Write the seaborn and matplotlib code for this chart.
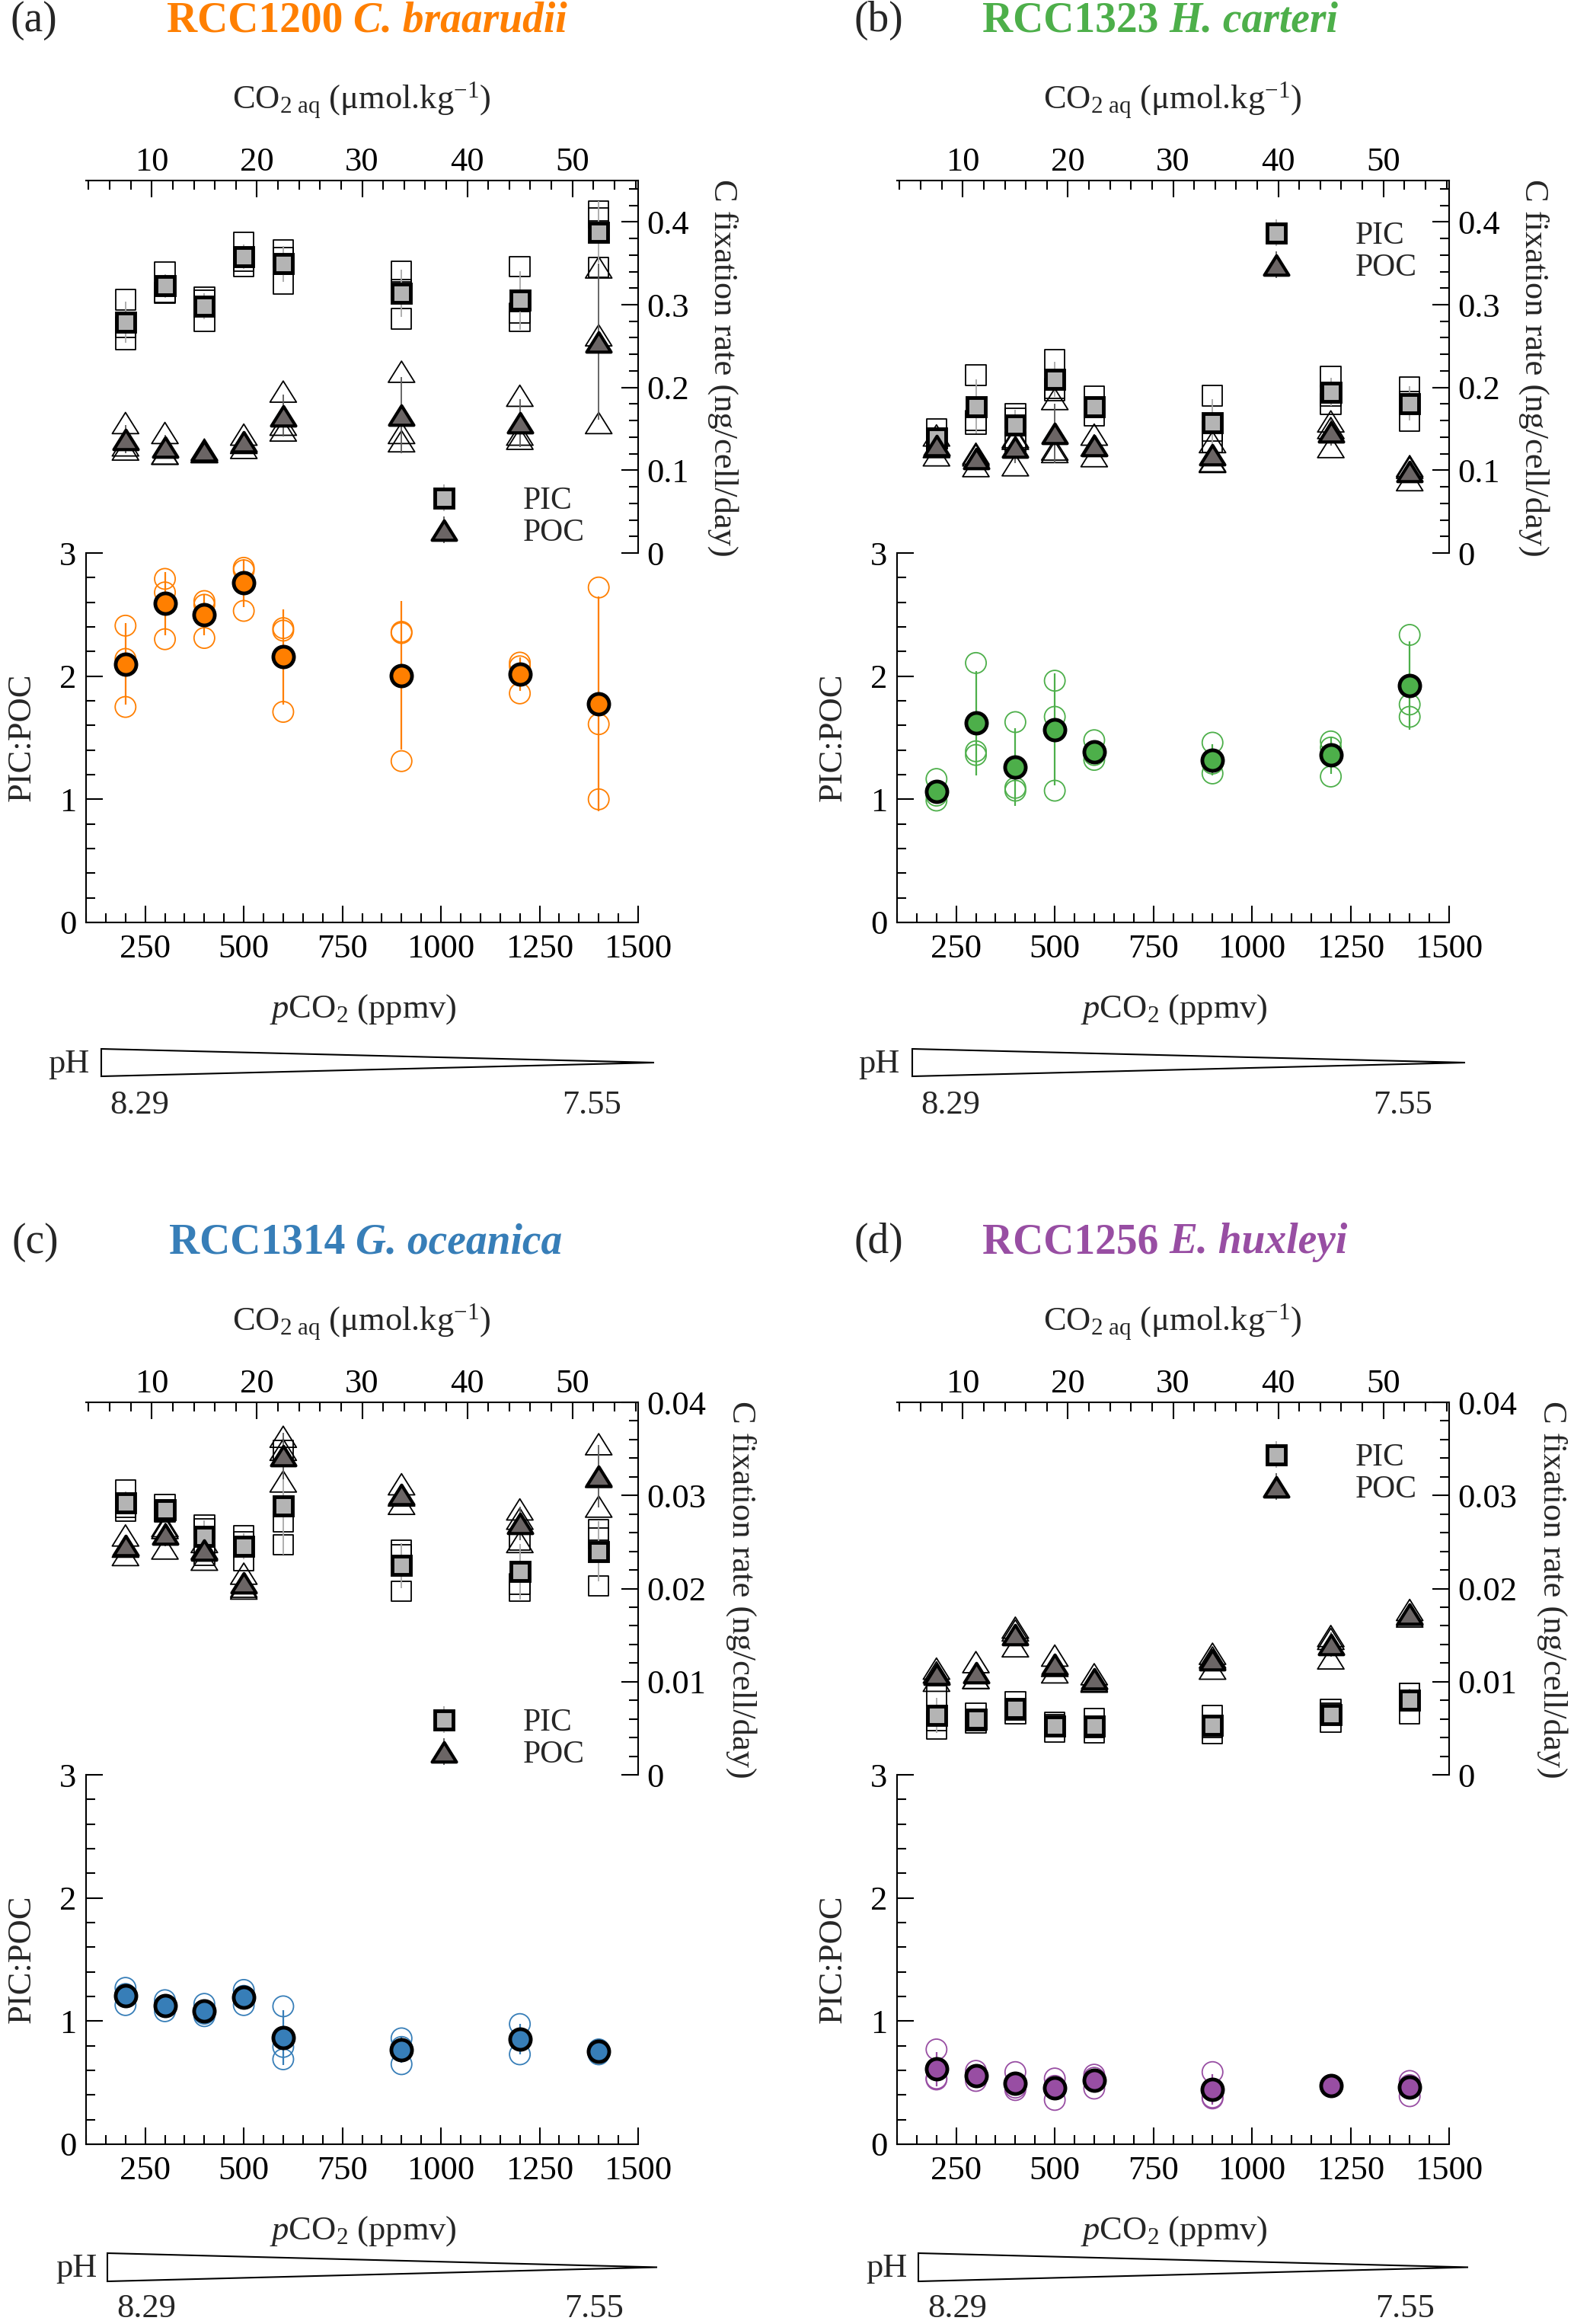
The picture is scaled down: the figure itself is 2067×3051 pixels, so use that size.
import numpy as np
import pandas as pd
import matplotlib
matplotlib.use('Agg')
import matplotlib.pyplot as plt
import seaborn as sns
from matplotlib.ticker import MultipleLocator, FuncFormatter
from matplotlib.patches import Polygon
from matplotlib.path import Path
from matplotlib.legend_handler import HandlerErrorbar
from matplotlib.container import ErrorbarContainer

sns.set_style('ticks', {'axes.edgecolor': 'black', 'xtick.color': 'black', 'ytick.color': 'black',
                        'xtick.direction': 'in', 'ytick.direction': 'in'})
plt.rcParams['font.family'] = ['Liberation Serif', 'DejaVu Serif']
plt.rcParams['mathtext.fontset'] = 'custom'
plt.rcParams['mathtext.rm'] = 'Liberation Serif'
plt.rcParams['mathtext.it'] = 'Liberation Serif:italic'
plt.rcParams['mathtext.bf'] = 'Liberation Serif:bold'
plt.rcParams['axes.linewidth'] = 1.5

# pCO2 levels (ppmv)
pco2 = [200, 300, 400, 500, 600, 900, 1200, 1400]

# replicate values (3 per pCO2 level)
# (a) RCC1200 C. braarudii
pic_a = [[0.306, 0.273, 0.258], [0.339, 0.315, 0.314], [0.309, 0.305, 0.280], [0.375, 0.353, 0.346],
         [0.366, 0.357, 0.325], [0.340, 0.318, 0.283], [0.346, 0.290, 0.280], [0.413, 0.405, 0.345]]
poc_a = [[0.157, 0.130, 0.125], [0.145, 0.120, 0.120], [0.125, 0.122, 0.122], [0.143, 0.133, 0.127],
         [0.195, 0.155, 0.148], [0.219, 0.145, 0.135], [0.190, 0.143, 0.138], [0.345, 0.263, 0.157]]
ratio_a = [[2.41, 2.14, 1.75], [2.79, 2.68, 2.30], [2.61, 2.58, 2.31], [2.88, 2.86, 2.53],
           [2.39, 2.37, 1.71], [2.36, 2.35, 1.31], [2.11, 2.08, 1.86], [2.72, 1.61, 1.00]]
# (b) RCC1323 H. carteri
pic_b = [[0.150, 0.135, 0.132], [0.215, 0.160, 0.156], [0.168, 0.163, 0.134], [0.234, 0.199, 0.196],
         [0.189, 0.176, 0.166], [0.190, 0.147, 0.134], [0.213, 0.190, 0.180], [0.200, 0.183, 0.159]]
poc_b = [[0.142, 0.128, 0.118], [0.120, 0.118, 0.105], [0.140, 0.138, 0.106], [0.186, 0.125, 0.122],
         [0.143, 0.130, 0.117], [0.134, 0.111, 0.110], [0.159, 0.151, 0.128], [0.105, 0.103, 0.088]]
ratio_b = [[1.165, 1.03, 0.99], [2.107, 1.39, 1.36], [1.627, 1.093, 1.07], [1.963, 1.67, 1.07],
           [1.48, 1.36, 1.32], [1.46, 1.29, 1.21], [1.47, 1.42, 1.185], [2.335, 1.77, 1.67]]
# (c) RCC1314 G. oceanica
pic_c = [[0.0306, 0.0287, 0.0283], [0.0290, 0.0283, 0.0282], [0.0268, 0.0264, 0.0236], [0.0257, 0.0250, 0.0230],
         [0.0348, 0.0272, 0.0247], [0.0241, 0.0236, 0.0197], [0.0252, 0.0205, 0.0197], [0.0263, 0.0254, 0.0203]]
poc_c = [[0.0257, 0.0245, 0.0236], [0.0267, 0.0265, 0.0243], [0.0250, 0.0243, 0.0231], [0.0216, 0.0202, 0.0200],
         [0.0363, 0.0349, 0.0315], [0.0312, 0.0300, 0.0291], [0.0285, 0.0275, 0.0250], [0.0355, 0.0320, 0.0288]]
ratio_c = [[1.27, 1.22, 1.13], [1.17, 1.12, 1.08], [1.14, 1.06, 1.04], [1.253, 1.205, 1.13],
           [1.12, 0.79, 0.69], [0.86, 0.79, 0.65], [0.976, 0.853, 0.73], [0.77, 0.76, 0.73]]
# (d) RCC1256 E. huxleyi
pic_d = [[0.0085, 0.0058, 0.0049], [0.0066, 0.0058, 0.0056], [0.0078, 0.0070, 0.0066], [0.0056, 0.0054, 0.0046],
         [0.0060, 0.0051, 0.0045], [0.0064, 0.0051, 0.0044], [0.0070, 0.0066, 0.0057], [0.0087, 0.0087, 0.0066]]
poc_d = [[0.0114, 0.0110, 0.0101], [0.0121, 0.0104, 0.0104], [0.0158, 0.0155, 0.0138], [0.0128, 0.0117, 0.0110],
         [0.0108, 0.0101, 0.0100], [0.0130, 0.0126, 0.0114], [0.0149, 0.0146, 0.0125], [0.0177, 0.0172, 0.0170]]
ratio_d = [[0.77, 0.534, 0.526], [0.596, 0.555, 0.514], [0.586, 0.46, 0.44], [0.534, 0.474, 0.36],
           [0.565, 0.54, 0.452], [0.586, 0.38, 0.372], [0.48, 0.47, 0.47], [0.514, 0.48, 0.39]]

set1 = sns.color_palette('Set1')
panels = [
    dict(tag='(a)', strain='RCC1200', species='C. braarudii', color=set1[4], pic=pic_a, poc=poc_a, ratio=ratio_a,
         ymax=0.45, step=0.1, leg='low', left=113, top=237, tag_x=14, title_x=219, row=0),
    dict(tag='(b)', strain='RCC1323', species='H. carteri', color=set1[2], pic=pic_b, poc=poc_b, ratio=ratio_b,
         ymax=0.45, step=0.1, leg='high', left=1178, top=237, tag_x=1122, title_x=1290, row=0),
    dict(tag='(c)', strain='RCC1314', species='G. oceanica', color=set1[1], pic=pic_c, poc=poc_c, ratio=ratio_c,
         ymax=0.04, step=0.01, leg='low', left=113, top=1841, tag_x=16, title_x=222, row=1),
    dict(tag='(d)', strain='RCC1256', species='E. huxleyi', color=set1[3], pic=pic_d, poc=poc_d, ratio=ratio_d,
         ymax=0.04, step=0.01, leg='high', left=1178, top=1841, tag_x=1122, title_x=1290, row=1),
]
# per-row offsets of the side label and of the pH wedge (pixels from panel corner)
row_style = [
    dict(rlab=836, wl=20, wr=746, wtop=1140, wbot=1176, ph_dx=4, num_y=1214, n1=70, n2=664),
    dict(rlab=860, wl=28, wr=750, wtop=1117, wbot=1154, ph_dx=14, num_y=1190, n1=79, n2=667),
]

W, H = 2067, 3051
fig = plt.figure(figsize=(W / 100, H / 100), dpi=100)
fig.patch.set_facecolor('white')


def fx(x):
    return x / W


def fy(y):
    return 1 - y / H


def long_df(values, name):
    rows = [(x, v) for x, reps in zip(pco2, values) for v in reps]
    return pd.DataFrame(rows, columns=['pco2', name])


tri = Path([(-1, -0.8), (1, -0.8), (0, 0.8), (0, 0)],
           [Path.MOVETO, Path.LINETO, Path.LINETO, Path.CLOSEPOLY])

FS = 32
sq_fill, tri_fill = '#b4b4b4', '#6b6565'


def fmt_rate(v, _):
    return '0' if abs(v) < 1e-12 else f'{v:g}'


def draw_panel(p):
    L, T = p['left'], p['top']
    rs = row_style[p['row']]
    aw, hu, hl = 725, 489, 485
    ax_r = fig.add_axes([fx(L), fy(T + hu), aw / W, hu / H])
    ax_p = fig.add_axes([fx(L), fy(T + hu + hl), aw / W, hl / H])
    for ax in (ax_r, ax_p):
        ax.patch.set_visible(False)

    # ---- C fixation rates ----
    d_pic = long_df(p['pic'], 'pic')
    d_poc = long_df(p['poc'], 'poc')
    sns.scatterplot(data=d_pic, x='pco2', y='pic', marker='s', s=19 ** 2, facecolors='none',
                    edgecolor='black', linewidth=1.3, ax=ax_r, legend=False, zorder=2)
    sns.scatterplot(data=d_poc, x='pco2', y='poc', marker=tri, s=25 ** 2, facecolors='none',
                    edgecolor='black', linewidth=1.3, ax=ax_r, legend=False, zorder=2)
    s_pic = d_pic.groupby('pco2')['pic'].agg(['mean', 'std'])
    s_poc = d_poc.groupby('pco2')['poc'].agg(['mean', 'std'])
    ax_r.errorbar(s_pic.index, s_pic['mean'], yerr=s_pic['std'], marker='s', ls='none', ms=17,
                  mfc=sq_fill, mec='black', mew=3.5, ecolor='#a8a8a8', elinewidth=1.3, capsize=0,
                  label='PIC', zorder=3)
    ax_r.errorbar(s_poc.index, s_poc['mean'], yerr=s_poc['std'], marker=tri, ls='none', ms=23,
                  mfc=tri_fill, mec='black', mew=3.0, ecolor='#5a5a5a', elinewidth=1.3, capsize=0,
                  label='POC', zorder=3)

    ax_r.set_xlim(100, 1500)
    ax_r.set_ylim(0, p['ymax'])
    ax_r.set_xlabel('')
    ax_r.set_ylabel('')
    ax_r.yaxis.tick_right()
    ax_r.spines[['left', 'bottom', 'top']].set_visible(False)
    ax_r.spines['right'].set_visible(True)
    ax_r.tick_params(axis='x', which='both', bottom=False, top=False, labelbottom=False, labeltop=False)
    ax_r.yaxis.set_major_locator(MultipleLocator(p['step']))
    ax_r.yaxis.set_minor_locator(MultipleLocator(p['step'] / 5))
    ax_r.yaxis.set_major_formatter(FuncFormatter(fmt_rate))
    ax_r.tick_params(axis='y', which='major', direction='in', length=16, width=1.5, labelsize=FS, pad=8,
                     left=False, right=True)
    ax_r.tick_params(axis='y', which='minor', direction='in', length=8.5, width=1.5, left=False, right=True)

    sec = ax_r.secondary_xaxis('top', functions=(lambda x: x * 0.0375, lambda c: c / 0.0375))
    sec.xaxis.set_major_locator(MultipleLocator(10))
    sec.xaxis.set_minor_locator(MultipleLocator(2))
    sec.tick_params(axis='x', which='major', direction='in', length=16, width=1.5, labelsize=FS, pad=3)
    sec.tick_params(axis='x', which='minor', direction='in', length=8.5, width=1.5)

    # legend
    leg_y = T + 402 if p['leg'] == 'low' else T + 54
    leg_x = L + 449 if p['leg'] == 'low' else L + 477
    h, lab = ax_r.get_legend_handles_labels()
    ax_r.legend(h, lab, loc='upper left', bbox_to_anchor=(fx(leg_x), fy(leg_y)),
                bbox_transform=fig.transFigure, frameon=False, borderpad=0, borderaxespad=0,
                handlelength=1.0, handletextpad=2.0, labelspacing=0.08, fontsize=30,
                handler_map={ErrorbarContainer: HandlerErrorbar(xerr_size=0.42)})

    # ---- PIC:POC ----
    d_rat = long_df(p['ratio'], 'ratio')
    sns.scatterplot(data=d_rat, x='pco2', y='ratio', marker='o', s=19.5 ** 2, facecolors='none',
                    edgecolor=p['color'], linewidth=1.3, ax=ax_p, legend=False, zorder=2)
    s_rat = d_rat.groupby('pco2')['ratio'].agg(['mean', 'std'])
    ax_p.errorbar(s_rat.index, s_rat['mean'], yerr=s_rat['std'], marker='o', ls='none', ms=19.5,
                  mfc=p['color'], mec='black', mew=3.5, ecolor=p['color'], elinewidth=1.6, capsize=0,
                  zorder=3)
    ax_p.set_xlim(100, 1500)
    ax_p.set_ylim(0, 3)
    ax_p.set_xlabel('')
    ax_p.set_ylabel('')
    ax_p.spines[['top', 'right']].set_visible(False)
    ax_p.xaxis.set_major_locator(MultipleLocator(250))
    ax_p.xaxis.set_minor_locator(MultipleLocator(50))
    ax_p.yaxis.set_major_locator(MultipleLocator(1))
    ax_p.yaxis.set_minor_locator(MultipleLocator(0.2))
    ax_p.tick_params(which='major', direction='in', length=16, width=1.5, labelsize=FS, top=False, right=False)
    ax_p.tick_params(which='minor', direction='in', length=8.5, width=1.5, top=False, right=False)
    ax_p.tick_params(axis='x', which='major', pad=11)
    ax_p.tick_params(axis='y', which='major', pad=9)

    # ---- text ----
    fig.text(fx(p['tag_x']), fy(T - 210), p['tag'], ha='left', va='center', fontsize=40)
    t1 = fig.text(fx(p['title_x']), fy(T - 210), p['strain'], ha='left', va='center', fontsize=40,
                  fontweight='bold', color=p['color'])
    fig.add_artist(matplotlib.text.Annotation(p['species'], xy=(1, 0.5), xycoords=t1, xytext=(10, 0),
                                              textcoords='offset points', ha='left', va='center',
                                              fontsize=40, fontweight='bold', fontstyle='italic',
                                              color=p['color']))
    fig.text(fx(L + 362), fy(T - 105), r'CO$_{2\ \mathregular{aq}}$ ($\mathregular{\mu}$mol.kg$^{\mathregular{-1}}$)',
             ha='center', va='center', fontsize=FS)
    fig.text(fx(L + rs['rlab']), fy(T + 246), 'C fixation rate (ng/cell/day)', rotation=270,
             ha='center', va='center', fontsize=FS)
    fig.text(fx(L - 84), fy(T + 731), 'PIC:POC', rotation=90, ha='center', va='center', fontsize=FS)
    fig.text(fx(L + 364), fy(T + 1088), r'$\mathit{p}$CO$_2$ (ppmv)', ha='center', va='center', fontsize=FS)

    # pH wedge
    wmid = (rs['wtop'] + rs['wbot']) / 2
    wedge = Polygon([(fx(L + rs['wl']), fy(T + rs['wtop'])), (fx(L + rs['wl']), fy(T + rs['wbot'])),
                     (fx(L + rs['wr']), fy(T + wmid))],
                    closed=True, facecolor='white', edgecolor='black', lw=1.5, transform=fig.transFigure)
    fig.add_artist(wedge)
    fig.text(fx(L + rs['ph_dx']), fy(T + wmid + 2), 'pH', ha='right', va='center', fontsize=FS)
    fig.text(fx(L + rs['n1']), fy(T + rs['num_y']), '8.29', ha='center', va='center', fontsize=FS)
    fig.text(fx(L + rs['n2']), fy(T + rs['num_y']), '7.55', ha='center', va='center', fontsize=FS)


for p in panels:
    draw_panel(p)

fig.savefig('out.png', dpi=100, facecolor='white')
